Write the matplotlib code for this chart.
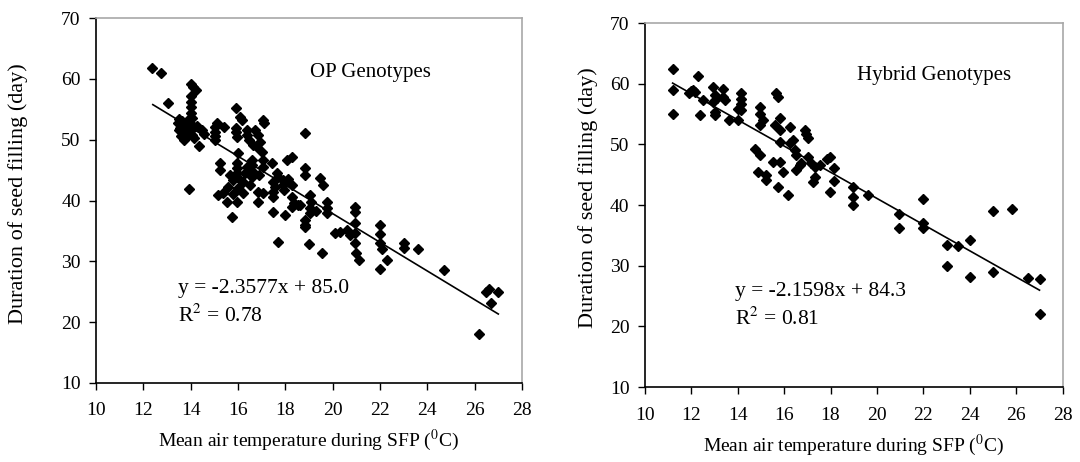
import numpy as np
from matplotlib import pyplot as plt

# OP genotypes (x = mean temp, y = duration)
op_x = [12.37, 12.73, 13.06, 14.01, 14.11, 14.22, 14.0, 14.0, 14.0, 14.0, 14.05,
        13.45, 13.5, 13.55, 13.6, 13.65, 13.7, 13.75, 13.8, 13.85, 13.9, 13.95, 14.0, 14.05, 14.1, 14.15, 13.6, 13.7, 14.25, 13.5,
        14.35, 14.46, 14.55, 15.03, 15.03, 15.03, 15.03, 15.1, 15.4,
        15.9, 16.08, 16.15, 15.9, 15.9, 15.95, 16.4, 16.4, 16.45, 16.7, 16.85, 16.93,
        17.04, 17.08, 16.65, 16.8, 17.0, 16.0,
        15.24, 15.24, 15.94, 15.94, 15.94, 15.94, 15.66, 15.8,
        16.58, 16.58, 16.6, 16.6, 17.05, 17.05, 17.42, 17.63, 17.7,
        18.06, 18.27, 18.83, 18.83, 18.83, 19.46, 19.6,
        17.9, 17.9, 17.95, 17.5, 17.55,
        15.58, 15.37, 15.15, 15.53, 15.96, 16.2, 16.85, 16.85, 17.05, 17.47, 17.5,
        18.3, 18.35, 13.93, 19.03, 19.1, 19.75, 19.75, 19.75, 20.94, 20.94,
        19.04, 19.04, 18.62, 18.53, 18.27, 17.47, 17.98, 15.73,
        18.83, 18.85, 18.85, 20.1, 20.3, 20.6, 20.95, 20.95, 20.95, 21.0, 21.1, 20.73, 17.7, 19.0, 19.53,
        16.3, 16.4, 16.9, 16.2, 16.5, 16.0, 15.8, 18.1, 18.3, 19.3,
        22.0, 22.0, 22.0, 22.1, 22.0, 22.3, 23.0, 23.0, 23.6, 24.7, 26.2, 26.5, 26.6, 26.7, 27.0]
op_y = [61.8, 60.9, 56.1, 59.2, 58.7, 58.2, 57.1, 56.2, 55.3, 54.4, 53.5,
        52.8, 53.4, 52.0, 51.4, 53.0, 52.4, 50.9, 50.4, 51.8, 53.2, 51.3, 52.6, 50.8, 51.9, 50.3, 50.6, 50.0, 52.2, 51.6,
        49.0, 51.6, 51.0, 52.1, 51.3, 50.6, 50.0, 52.7, 52.1,
        55.2, 53.8, 53.3, 52.0, 51.2, 50.4, 51.6, 50.8, 49.9, 51.6, 50.8, 49.6,
        53.2, 52.7, 49.1, 48.8, 48.0, 47.8,
        46.2, 45.0, 46.2, 45.4, 44.6, 43.9, 44.2, 43.4,
        46.7, 45.8, 44.9, 43.9, 46.7, 45.5, 46.2, 44.5, 43.9,
        46.7, 47.2, 51.1, 45.3, 44.2, 43.7, 42.6,
        43.4, 42.5, 41.7, 43.0, 42.2,
        42.2, 41.2, 40.9, 39.8, 39.8, 41.2, 41.4, 39.8, 41.2, 41.4, 40.6,
        40.6, 39.6, 41.9, 40.9, 39.8, 39.8, 38.8, 37.9, 38.9, 38.1,
        38.8, 37.9, 39.2, 39.3, 39.0, 38.1, 37.6, 37.3,
        36.8, 36.0, 35.6, 34.6, 34.8, 35.2, 36.3, 34.6, 33.0, 31.4, 30.2, 34.3, 33.2, 32.8, 31.4,
        44.5, 45.5, 44.2, 43.0, 42.5, 42.0, 41.0, 43.5, 42.5, 38.2,
        36.0, 34.5, 33.0, 32.0, 28.7, 30.2, 33.0, 32.2, 32.0, 28.6, 18.0, 25.0, 25.5, 23.2, 25.0]

# Hybrid genotypes
hy_x = [11.2, 11.2, 11.2, 11.9, 12.0, 12.3, 12.08, 12.15, 12.51, 12.37,
        12.94, 13.01, 12.93, 13.09, 13.37, 13.37, 13.44, 13.01, 13.01, 13.63, 14.02,
        14.16, 14.16, 14.16, 14.16, 14.02,
        15.67, 15.73, 14.95, 14.95, 15.08, 14.95, 15.81, 15.6, 15.81, 16.24,
        16.89, 16.96, 17.03, 15.81, 16.24, 16.37, 16.46, 16.53, 14.74, 14.95, 15.52, 15.81, 15.95, 14.88, 15.24, 15.24, 15.74, 16.15,
        16.53, 16.67, 16.75, 17.03, 17.18, 17.32, 17.54, 17.32, 17.25, 17.83, 17.97, 18.14, 18.14, 17.97, 18.97, 18.97, 18.97, 19.62, 20.95, 20.95,
        22.0, 22.0, 22.0, 23.0, 23.0, 23.5, 24.0, 24.0, 25.0, 25.0, 25.8, 26.5, 27.0, 27.0]
hy_y = [62.5, 59.0, 55.0, 58.5, 58.8, 61.2, 59.0, 58.7, 57.4, 54.8,
        59.5, 58.1, 57.0, 57.6, 59.2, 57.9, 57.3, 55.4, 54.8, 54.0, 54.0,
        58.4, 57.5, 56.6, 55.7, 55.9,
        58.4, 57.9, 56.2, 55.1, 54.0, 53.2, 54.3, 53.2, 52.4, 52.9,
        52.4, 51.8, 51.0, 50.4, 50.2, 50.7, 49.1, 48.2, 49.3, 48.2, 47.1, 47.1, 45.5, 45.5, 44.9, 44.1, 43.0, 41.6,
        45.8, 46.6, 46.9, 48.0, 46.9, 46.3, 46.6, 44.7, 43.8, 47.6, 47.9, 46.1, 44.0, 42.2, 43.0, 41.4, 40.0, 41.6, 38.6, 36.2,
        41.0, 37.0, 36.2, 33.5, 30.0, 33.3, 34.2, 28.2, 39.0, 29.0, 39.3, 28.0, 27.8, 22.0]

op_fit = (-2.3577, 85.0, 12.4, 27.0)
hy_fit = (-2.1598, 84.3, 11.2, 27.0)

plt.rcParams['font.family'] = ['Liberation Serif', 'DejaVu Serif']
plt.rcParams['mathtext.fontset'] = 'stix'

fig = plt.figure(figsize=(10.8, 4.62), dpi=100)
ax1 = fig.add_axes([0.0889, 0.171, 0.3944, 0.790])
ax2 = fig.add_axes([0.597, 0.162, 0.387, 0.788])

def draw(ax, xs, ys, fit, name, eq, r2, pos_name, pos_eq, ylab_x):
    ax.plot(xs, ys, 'D', color='black', markersize=4.6, linestyle='none')
    m, b, x0, x1 = fit
    lx = np.array([x0, x1])
    ax.plot(lx, m * lx + b, color='black', linewidth=1.2)
    ax.set_xlim(10, 28)
    ax.set_ylim(10, 70)
    ax.set_xticks(range(10, 29, 2))
    ax.set_yticks(range(10, 71, 10))
    ax.tick_params(direction='out', length=5, width=1, labelsize=14)
    ax.tick_params(axis='x', pad=9)
    ax.tick_params(axis='y', pad=6)
    for s in ['top', 'right']:
        ax.spines[s].set_color('#a8a8a8')
        ax.spines[s].set_linewidth(1.2)
    for s in ['left', 'bottom']:
        ax.spines[s].set_color('black')
        ax.spines[s].set_linewidth(1.2)
    ax.text(pos_name[0], pos_name[1], name, fontsize=15, va='center')
    ax.text(pos_eq[0], pos_eq[1], eq, fontsize=15.5, va='center')
    ax.text(pos_eq[0], pos_eq[1] - 4.5, r2, fontsize=15.5, va='center')
    ax.set_xlabel('Mean air temperature during SFP ($^0$C)', fontsize=14)
    ax.xaxis.set_label_coords(0.5, -0.124)
    ax.set_ylabel('Duration of seed filling (day)', fontsize=16)
    ax.yaxis.set_label_coords(ylab_x, 0.52)

draw(ax1, op_x, op_y, op_fit, 'OP Genotypes', 'y = -2.3577x + 85.0', 'R$^2$ = 0.78',
     (19.05, 61.1), (13.46, 25.6), -0.16)
draw(ax2, hy_x, hy_y, hy_fit, 'Hybrid Genotypes', 'y = -2.1598x + 84.3', 'R$^2$ = 0.81',
     (19.13, 61.3), (13.88, 25.8), -0.112)

fig.savefig('out.png', dpi=100)
